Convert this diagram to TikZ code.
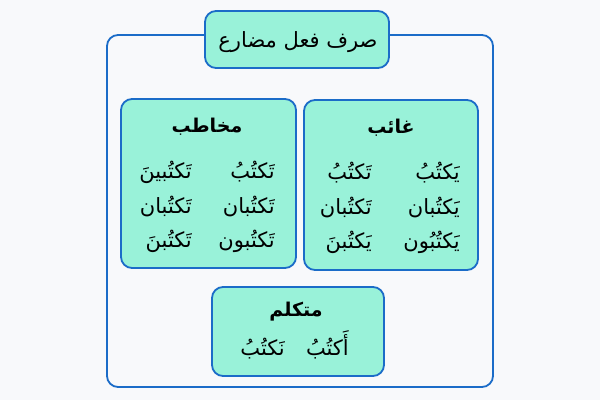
\documentclass[tikz,border=0pt]{standalone}
\usepackage{fontspec}
\TeXXeTstate=1
\newfontfamily\arabicfont[Script=Arabic]{DejaVu Sans}
\definecolor{bgc}{HTML}{F8F9FB}
\definecolor{mint}{HTML}{99F2D9}
\definecolor{edge}{HTML}{1B6CC8}
\tikzset{
  frame/.style={draw=edge, line width=1.8pt, fill=bgc, rounded corners=11pt, inner sep=0pt},
  box/.style={draw=edge, line width=1.8pt, fill=mint, rounded corners=11pt, inner sep=0pt},
  titletext/.style={font=\arabicfont\fontsize{21}{25}\selectfont, inner sep=0pt, anchor=base},
  headtext/.style={font=\arabicfont\bfseries\fontsize{19}{23}\selectfont, inner sep=0pt, anchor=base},
  word/.style={font=\arabicfont\fontsize{21}{25}\selectfont, inner sep=0pt, anchor=base east},
}
\begin{document}
\begin{tikzpicture}[x=1pt,y=-1pt]
\fill[bgc] (0,0) rectangle (600,400);
\useasboundingbox (0,0) rectangle (600,400);
% outer frame
\node[frame, minimum width=386pt, minimum height=352pt] (outer) at (300,211) {};
% title
\node[box, minimum width=184pt, minimum height=57pt] (titlebox) at (297,39.5) {};
\node[titletext] (title) at (298,47) {\beginR صرف فعل مضارع\endR};
% ghaib
\node[box, minimum width=174pt, minimum height=170pt] (ghaib) at (391,185) {};
\node[headtext] (ghaibhead) at (391,133) {\beginR غائب\endR};
\node[word] (g1) at (460,179) {\beginR يَكتُبُ\endR};
\node[word] (g2) at (460,214) {\beginR يَكتُبان\endR};
\node[word] (g3) at (460,248) {\beginR يَكتُبُون\endR};
\node[word] (g4) at (372,179) {\beginR تَكتُبُ\endR};
\node[word] (g5) at (372,214) {\beginR تَكتُبان\endR};
\node[word] (g6) at (372,248) {\beginR يَكتُبنَ\endR};
% mukhatab
\node[box, minimum width=175pt, minimum height=169pt] (mukh) at (208.5,183.5) {};
\node[headtext] (mukhhead) at (207,132) {\beginR مخاطب\endR};
\node[word] (m1) at (275,178) {\beginR تَكتُبُ\endR};
\node[word] (m2) at (275,213) {\beginR تَكتُبان\endR};
\node[word] (m3) at (275,247) {\beginR تَكتُبون\endR};
\node[word] (m4) at (192,178) {\beginR تَكتُبينَ\endR};
\node[word] (m5) at (192,213) {\beginR تَكتُبان\endR};
\node[word] (m6) at (192,247) {\beginR تَكتُبنَ\endR};
% mutakallim
\node[box, minimum width=172pt, minimum height=89pt] (mut) at (298,331.5) {};
\node[headtext] (muthead) at (296,316) {\beginR متكلم\endR};
\node[word] (k1) at (349,355) {\beginR أَكتُبُ\endR};
\node[word] (k2) at (285,355) {\beginR نَكتُبُ\endR};
\end{tikzpicture}
\end{document}
